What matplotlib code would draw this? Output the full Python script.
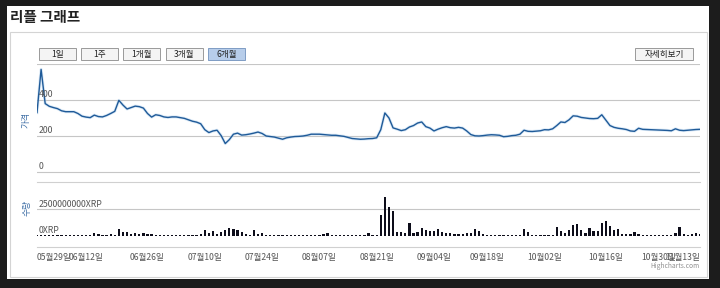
import numpy as np
import matplotlib.pyplot as plt
from matplotlib.patches import Rectangle

plt.rcParams['font.family'] = ['Noto Sans CJK KR', 'DejaVu Sans']

# daily price (one value per trading day)
price = [330, 570, 380, 365, 358, 352, 340, 335, 335, 335,
         325, 310, 305, 302, 316, 308, 306, 314, 325, 337,
         398, 372, 350, 358, 366, 363, 355, 325, 305, 318,
         314, 306, 303, 306, 306, 302, 298, 290, 282, 277,
         268, 235, 219, 228, 232, 202, 158, 180, 210, 216,
         205, 207, 211, 216, 222, 214, 200, 197, 194, 188,
         182, 190, 194, 197, 198, 200, 204, 210, 210, 210,
         208, 206, 204, 204, 201, 198, 192, 186, 184, 182,
         183, 185, 186, 190, 235, 328, 300, 245, 238, 230,
         235, 250, 258, 272, 278, 252, 244, 228, 238, 246,
         252, 246, 244, 248, 244, 228, 208, 201, 200, 202,
         205, 207, 206, 204, 196, 198, 202, 204, 210, 232,
         226, 225, 227, 229, 235, 234, 240, 258, 278, 275,
         290, 312, 310, 303, 300, 297, 296, 298, 318, 288,
         258, 248, 243, 240, 236, 228, 226, 243, 237, 236,
         235, 234, 233, 232, 231, 229, 240, 232, 230, 232,
         234, 236, 237]

# daily volume, in 1e8 XRP
volume = [0.9, 0.9, 0.9, 0.9, 0.9, 0.9, 0.9, 0.9, 0.9, 0.9,
          0.9, 0.9, 0.9, 0.9, 2.8, 1.9, 0.9, 0.9, 1.9, 0.9,
          6.5, 3.7, 3.7, 1.9, 2.8, 1.9, 2.8, 1.9, 1.9, 0.9,
          0.9, 0.9, 0.9, 0.9, 0.9, 0.9, 0.9, 0.9, 0.9, 0.9,
          1.9, 5.6, 2.8, 4.7, 1.9, 3.7, 5.6, 7.5, 6.5, 5.6,
          3.7, 1.9, 0.9, 5.6, 1.9, 2.8, 1.4, 0.9, 0.9, 0.9,
          0.9, 0.9, 0.9, 0.9, 0.9, 0.9, 0.9, 0.9, 0.9, 0.9,
          1.9, 2.8, 0.9, 0.9, 0.9, 0.9, 0.9, 0.9, 0.9, 0.9,
          0.9, 3.1, 0.9, 0.9, 19.4, 36.2, 26.9, 23.4, 3.5, 3.5,
          2.8, 12.2, 2.8, 3.7, 7.8, 5.6, 4.7, 4.4, 6.3, 3.7,
          2.8, 2.8, 1.9, 1.9, 1.9, 2.8, 2.8, 6.8, 4.7, 1.9,
          0.9, 0.9, 0.9, 0.9, 0.9, 0.9, 0.9, 0.9, 0.9, 6.3,
          3.7, 0.9, 0.9, 0.9, 0.9, 0.9, 0.9, 8.1, 4.7, 2.8,
          5.9, 10.6, 11.2, 5.6, 3.1, 7.5, 5.0, 5.0, 12.4, 14.0,
          9.4, 5.3, 6.8, 1.9, 1.9, 1.9, 3.7, 1.9, 0.9, 0.9,
          0.9, 0.9, 0.9, 0.9, 0.9, 0.9, 2.8, 8.4, 1.9, 0.9,
          1.9, 2.8, 1.9]

tick_pos = [0, 12, 27, 41, 55, 69, 83, 97, 110, 124, 139, 152, 162]
tick_labels = ['05월29일', '06월12일', '06월26일', '07월10일', '07월24일', '08월07일',
               '08월21일', '09월04일', '09월18일', '10월02일', '10월16일', '10월30일',
               '11월13일']
price_ticks = [0, 200, 400, 600]
vol_ticks = [0, 2500000000]
buttons = ['1일', '1주', '1개월', '3개월', '6개월']

W, H = 720, 288
def box(x0, y0, x1, y1):
    return [x0 / W, 1 - y1 / H, (x1 - x0) / W, (y1 - y0) / H]

def rect(x0, y0, x1, y1, z=1, **kw):
    fig.add_artist(Rectangle((x0 / W, 1 - y1 / H), (x1 - x0) / W, (y1 - y0) / H,
                             transform=fig.transFigure, zorder=z, **kw))

fig = plt.figure(figsize=(7.2, 2.88), dpi=100, facecolor='#1c1c1c')
rect(7, 6, 709, 279, z=-5, facecolor='white', edgecolor='none')
rect(10, 32, 707, 277, z=-4, facecolor='none', edgecolor='#d4d4d4', lw=0.8)

fig.text(10 / W, 1 - 17 / H, '리플 그래프', fontsize=10.5, fontweight='bold',
         color='#222222', va='center', ha='left')

# range buttons
for k, b in enumerate(buttons):
    x0 = 39 + k * 42.2
    sel = (b == '6개월')
    rect(x0, 48, x0 + 37, 60, facecolor='#b7cdea' if sel else '#f4f4f4',
         edgecolor='#7f9cc4' if sel else '#9a9a9a', lw=0.7)
    fig.text((x0 + 18.5) / W, 1 - 54 / H, b, fontsize=6.2, color='#222222',
             ha='center', va='center')
rect(635, 48, 693, 60, facecolor='#f4f4f4', edgecolor='#9a9a9a', lw=0.7)
fig.text(664 / W, 1 - 54 / H, '자세히보기', fontsize=6.2, color='#222222',
         ha='center', va='center')

x = np.arange(len(price))

# price pane
ax1 = fig.add_axes(box(37, 64, 700, 182))
ax1.set_facecolor('none')
ax1.plot(x, price, color='#b3d2ee', lw=2.2, alpha=0.45, zorder=2)
ax1.plot(x, price, color='#1f5a98', lw=1.0, zorder=3)
ax1.set_xlim(0, len(price) - 1)
ax1.set_ylim(-55.6, 600)
ax1.set_yticks(price_ticks)
ax1.set_xticks([])
ax1.grid(axis='y', color='#c6c6c6', lw=0.8)
ax1.tick_params(left=False, labelleft=False)
for s in ['top', 'left', 'right']:
    ax1.spines[s].set_visible(False)
ax1.spines['bottom'].set_color('#d0d0d0')
for v in price_ticks[:-1]:
    ax1.text(0.002, v + 6, str(v), transform=ax1.get_yaxis_transform(),
             fontsize=6.3, color='#555555', ha='left', va='bottom')
fig.text(26 / W, 1 - 120 / H, '가격', rotation=90, fontsize=6.3,
         color='#3f6fa6', ha='center', va='center')

# volume pane
ax2 = fig.add_axes(box(37, 190, 700, 247))
ax2.set_facecolor('none')
ax2.bar(x, np.array(volume) * 1e8, width=0.55, color='#0d0d1a', zorder=3)
ax2.set_xlim(0, len(price) - 1)
ax2.set_ylim(-1.03e9, 4.31e9)
ax2.set_yticks(vol_ticks[1:])
ax2.grid(axis='y', color='#c6c6c6', lw=0.8)
ax2.tick_params(left=False, labelleft=False, bottom=False, pad=0.5,
                labelsize=6.2, labelcolor='#555555')
ax2.set_xticks(tick_pos)
ax2.set_xticklabels(tick_labels)
lbls = ax2.get_xticklabels()
lbls[0].set_ha('left')
lbls[-1].set_ha('right')
for s in ['top', 'left', 'right']:
    ax2.spines[s].set_visible(False)
ax2.spines['bottom'].set_color('#d0d0d0')
for v in vol_ticks:
    ax2.text(0.002, v + 0.5e8, f'{v}XRP', transform=ax2.get_yaxis_transform(),
             fontsize=6.3, color='#555555', ha='left', va='bottom', zorder=4)
fig.text(27 / W, 1 - 208 / H, '수량', rotation=90, fontsize=6.3,
         color='#3f6fa6', ha='center', va='center')

fig.text(700 / W, 1 - 266 / H, 'Highcharts.com', fontsize=4.8, color='#909090',
         ha='right', va='center')

fig.savefig('out.png', dpi=100, facecolor=fig.get_facecolor())
